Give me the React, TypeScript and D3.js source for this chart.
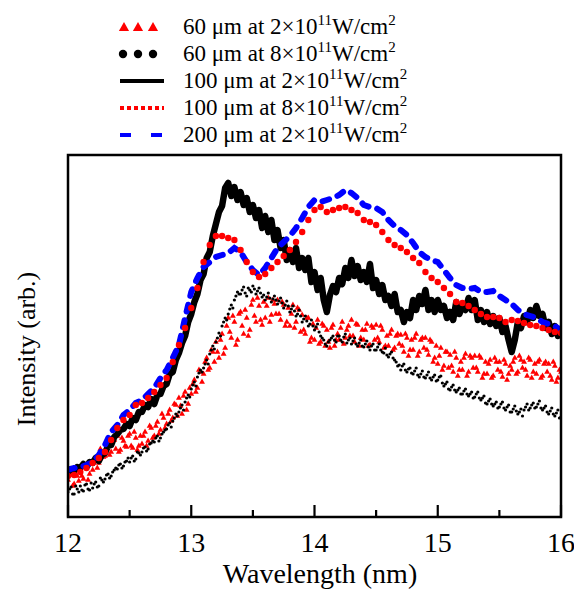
import React from "react";
import * as d3 from "d3";

const START = 12;
const FINE_STEP = 0.025;
const COARSE_STEP = 0.05;

// 100 µm at 2×10^11 W/cm² (solid black), step 0.025 nm
const line100Low = [
  45, 48, 46, 50, 49, 53, 50, 55, 54, 59, 56, 62, 64, 71, 72, 80,
  83, 87, 88, 93, 91, 99, 97, 105, 105, 112, 110, 118, 113, 122, 123, 131,
  133, 143, 145, 157, 164, 174, 181, 195, 203, 215, 223, 237, 243, 259, 265, 281,
  293, 305, 311, 329, 334, 321, 330, 317, 325, 312, 319, 305, 312, 299, 307, 289,
  301, 285, 297, 277, 287, 269, 277, 257, 267, 255, 269, 249, 259, 247, 259, 235,
  245, 227, 239, 217, 205, 222, 231, 225, 239, 233, 249, 239, 257, 241, 251, 237,
  245, 235, 253, 229, 237, 223, 232, 217, 221, 211, 223, 205, 207, 195, 205, 199,
  217, 207, 221, 213, 227, 207, 217, 205, 217, 207, 211, 199, 205, 197, 215, 203,
  211, 207, 219, 207, 217, 197, 207, 195, 205, 193, 201, 191, 199, 185, 191, 177,
  165, 177, 195, 189, 201, 195, 207, 199, 211, 201, 203, 189, 195, 183, 191, 181,
  187,
];

// 100 µm at 8×10^11 W/cm² (red dotted), step 0.05 nm
const line100High = [
  41, 42, 45, 49, 54, 59, 65, 77, 89, 97, 102, 112, 114, 119, 125, 132,
  139, 155, 172, 189, 209, 229, 255, 272, 281, 281, 279, 277, 267, 255, 245, 240,
  243, 249, 255, 261, 267, 275, 285, 297, 307, 310, 305, 307, 309, 310, 307, 304,
  297, 295, 292, 285, 277, 272, 269, 265, 259, 254, 245, 239, 235, 229, 223, 215,
  214, 211, 207, 203, 200, 200, 199, 195, 197, 196, 194, 192, 191, 189, 187, 185,
  184,
];

// 200 µm at 2×10^11 W/cm² (blue dashed), step 0.05 nm
const line200Low = [
  47, 49, 50, 52, 55, 62, 72, 85, 92, 102, 107, 114, 117, 123, 129, 139,
  147, 159, 172, 199, 225, 239, 250, 255, 260, 262, 264, 269, 265, 255, 247, 242,
  249, 259, 269, 275, 281, 289, 299, 310, 317, 315, 317, 319, 322, 327, 324, 319,
  312, 310, 309, 305, 297, 291, 287, 282, 274, 265, 260, 257, 255, 247, 239, 232,
  229, 228, 229, 225, 225, 226, 221, 217, 213, 207, 203, 201, 199, 195, 193, 191,
  187,
];

// 60 µm at 2×10^11 W/cm² (red triangles): set A at 12.000 + i·0.025, set B at 12.0125 + i·0.025
const tri60LowA = [
  37, 45, 33, 41, 47, 38, 51, 43, 47, 59, 54, 65, 61, 75, 65, 77,
  81, 67, 76, 70, 83, 69, 79, 71, 73, 85, 76, 89, 81, 95, 87, 99,
  93, 107, 99, 112, 119, 103, 125, 113, 123, 137, 129, 145, 143, 159, 149, 165,
  175, 159, 183, 169, 199, 179, 195, 177, 205, 183, 199, 187, 217, 195, 211, 192,
  199, 219, 202, 213, 217, 197, 212, 195, 191, 212, 195, 207, 202, 183, 199, 179,
  177, 197, 175, 191, 187, 169, 192, 177, 177, 195, 179, 191, 197, 175, 192, 179,
  177, 193, 172, 189, 192, 175, 187, 171, 171, 187, 169, 183, 182, 165, 179, 167,
  167, 183, 165, 179, 179, 162, 175, 159, 153, 169, 151, 165, 162, 145, 159, 147,
  147, 163, 145, 159, 161, 145, 159, 143, 143, 157, 141, 155, 155, 140, 153, 143,
  147, 159, 145, 157, 155, 141, 157, 145, 143, 157, 141, 155, 153, 137, 151, 139,
  145,
];
const tri60LowB = [
  42, 31, 47, 36, 41, 52, 37, 55, 56, 49, 68, 60, 73, 62, 79, 68,
  65, 79, 71, 81, 71, 85, 67, 81, 81, 71, 91, 79, 91, 83, 103, 89,
  103, 96, 113, 101, 111, 121, 107, 129, 133, 125, 147, 135, 155, 147, 167, 155,
  165, 177, 163, 191, 185, 201, 172, 203, 191, 207, 181, 212, 201, 219, 197, 215,
  211, 195, 217, 203, 203, 215, 191, 209, 203, 189, 209, 185, 187, 199, 175, 193,
  189, 173, 193, 171, 175, 189, 171, 183, 189, 173, 187, 181, 181, 193, 171, 187,
  187, 171, 191, 177, 179, 191, 169, 181, 183, 167, 181, 173, 171, 183, 161, 177,
  179, 161, 177, 169, 167, 177, 155, 171, 161, 147, 165, 149, 151, 165, 141, 155,
  159, 141, 161, 149, 149, 161, 139, 155, 153, 139, 159, 147, 145, 157, 137, 151,
  155, 143, 161, 149, 147, 159, 139, 153, 155, 139, 153, 145, 141, 155, 135, 147,
];

// 60 µm at 8×10^11 W/cm² (black dots): set A at 12.000 + i·0.025, set B at 12.0125 + i·0.025
const dot60HighA = [
  25, 30, 23, 28, 31, 26, 33, 27, 29, 35, 31, 37, 38, 43, 41, 47,
  48, 53, 51, 56, 55, 61, 58, 64, 65, 70, 68, 74, 75, 81, 79, 85,
  88, 94, 96, 103, 105, 112, 115, 122, 128, 135, 140, 147, 149, 157, 163, 171,
  175, 184, 191, 199, 203, 212, 217, 225, 223, 230, 221, 227, 231, 223, 229, 220,
  217, 224, 215, 221, 213, 219, 209, 216, 205, 211, 201, 207, 195, 201, 191, 197,
  187, 193, 181, 177, 171, 177, 181, 175, 181, 175, 183, 177, 173, 179, 171, 177,
  170, 176, 167, 173, 167, 173, 165, 169, 160, 165, 157, 151, 147, 153, 145, 149,
  143, 149, 140, 146, 139, 145, 137, 142, 137, 141, 131, 135, 127, 132, 125, 129,
  123, 128, 121, 125, 120, 125, 117, 121, 113, 118, 111, 115, 110, 115, 107, 112,
  105, 111, 103, 108, 107, 113, 109, 114, 110, 116, 107, 111, 103, 109, 101, 107,
  100,
];
const dot60HighB = [
  28, 23, 31, 25, 27, 32, 28, 34, 33, 30, 39, 35, 42, 39, 45, 49,
  52, 49, 55, 59, 59, 56, 65, 62, 69, 66, 73, 76, 79, 76, 83, 87,
  92, 90, 99, 101, 109, 107, 119, 120, 132, 131, 144, 145, 153, 153, 167, 168,
  179, 181, 195, 197, 208, 209, 221, 223, 227, 224, 229, 225, 228, 226, 224, 222,
  220, 219, 218, 217, 216, 214, 212, 211, 208, 206, 203, 201, 198, 196, 193, 191,
  190, 185, 179, 173, 175, 179, 177, 181, 177, 180, 174, 179, 176, 173, 174, 171,
  173, 170, 171, 167, 170, 167, 164, 162, 163, 159, 155, 152, 151, 147, 148, 144,
  146, 142, 143, 140, 142, 139, 140, 136, 140, 134, 133, 128, 130, 127, 127, 123,
  126, 123, 123, 119, 123, 119, 119, 114, 116, 113, 113, 109, 113, 109, 110, 105,
  108, 106, 105, 101, 110, 107, 112, 109, 113, 109, 109, 105, 106, 103, 104, 99,
];

const xTicksMajor = [12, 13, 14, 15, 16];
const xTicksMinor = [12.5, 13.5, 14.5, 15.5];

const legendItems = [
  { size: "60", power: "2" },
  { size: "60", power: "8" },
  { size: "100", power: "2" },
  { size: "100", power: "8" },
  { size: "200", power: "2" },
];

const W = 574;
const H = 591;

type P = [number, number];
const withGrid = (vals: number[], start: number, step: number): P[] =>
  vals.map((v, i) => [start + i * step, v]);

export default function App() {
  const x = d3.scaleLinear().domain([12, 16]).range([68, 561]);
  const y = d3.scaleLinear().domain([0, 362]).range([517, 155]);

  const black = withGrid(line100Low, START, FINE_STEP);
  const red = withGrid(line100High, START, COARSE_STEP);
  const blue = withGrid(line200Low, START, COARSE_STEP);
  const tris = [
    ...withGrid(tri60LowA, START, FINE_STEP),
    ...withGrid(tri60LowB, START + FINE_STEP / 2, FINE_STEP),
  ];
  const dots = [
    ...withGrid(dot60HighA, START, FINE_STEP),
    ...withGrid(dot60HighB, START + FINE_STEP / 2, FINE_STEP),
  ];

  const line = d3
    .line<P>()
    .x((d) => x(d[0]))
    .y((d) => y(d[1]));
  const triPath = d3.symbol().type(d3.symbolTriangle).size(15)() as string;
  const legTri = d3.symbol().type(d3.symbolTriangle).size(45)() as string;

  const legendY = [27, 54, 81, 108, 135];
  const legendText = [34, 61, 88, 115, 142];

  return (
    <div style={{ position: "absolute", left: 0, top: 0, width: W, height: H, fontFamily: '"Liberation Serif"' }}>
      <svg width={W} height={H} style={{ display: "block", background: "#fff" }}>
        <rect width={W} height={H} fill="#fff" />
        <defs>
          <clipPath id="plot">
            <rect x={68} y={155} width={493} height={362} />
          </clipPath>
        </defs>

        <g clipPath="url(#plot)">
          {tris.map((d, i) => (
            <path
              key={"t" + i}
              d={triPath}
              transform={`translate(${x(d[0])},${y(d[1])})`}
              fill="#ff0000"
            />
          ))}
          {dots.map((d, i) => (
            <circle key={"d" + i} cx={x(d[0])} cy={y(d[1])} r={1.6} fill="#000" />
          ))}
          <path
            d={line(black) as string}
            fill="none"
            stroke="#000"
            strokeWidth={6.5}
            strokeLinejoin="round"
          />
          <path
            d={line(blue) as string}
            fill="none"
            stroke="#0000ff"
            strokeWidth={6}
            strokeDasharray="7 9"
            strokeLinecap="round"
          />
          {red.map((d, i) => (
            <circle key={"r" + i} cx={x(d[0])} cy={y(d[1])} r={3.2} fill="#ff0000" />
          ))}
        </g>

        <rect x={68} y={155} width={493} height={362} fill="none" stroke="#000" strokeWidth={2.5} />
        {xTicksMajor.map((t) => (
          <line key={"M" + t} x1={x(t)} x2={x(t)} y1={517} y2={505} stroke="#000" strokeWidth={2.2} />
        ))}
        {xTicksMinor.map((t) => (
          <line key={"m" + t} x1={x(t)} x2={x(t)} y1={517} y2={510} stroke="#000" strokeWidth={2.2} />
        ))}
        {xTicksMajor.map((t) => (
          <text key={"L" + t} x={x(t)} y={552} fontSize={28} textAnchor="middle" fontFamily="Liberation Serif">
            {t}
          </text>
        ))}
        <text x={320} y={583} fontSize={28} textAnchor="middle" fontFamily="Liberation Serif">
          Wavelength (nm)
        </text>
        <text
          transform="translate(35,349) rotate(-90)"
          fontSize={26}
          textAnchor="middle"
          fontFamily="Liberation Serif"
        >
          Intensity (arb.)
        </text>

        {[124, 138, 153].map((cx) => (
          <path key={"lt" + cx} d={legTri} transform={`translate(${cx},${legendY[0] + 1})`} fill="#ff0000" />
        ))}
        {[123, 138, 153].map((cx) => (
          <circle key={"ld" + cx} cx={cx} cy={legendY[1]} r={4.2} fill="#000" />
        ))}
        <line x1={120} x2={164} y1={legendY[2]} y2={legendY[2]} stroke="#000" strokeWidth={4} />
        <line
          x1={120}
          x2={164}
          y1={legendY[3]}
          y2={legendY[3]}
          stroke="#ff0000"
          strokeWidth={4}
          strokeDasharray="4 3"
        />
        <line x1={120} x2={131} y1={legendY[4]} y2={legendY[4]} stroke="#0000ff" strokeWidth={4} />
        <line x1={151} x2={162} y1={legendY[4]} y2={legendY[4]} stroke="#0000ff" strokeWidth={4} />
        {legendItems.map((it, i) => (
          <text
            key={"lg" + i}
            x={183}
            y={legendText[i]}
            fontSize={23}
            fontFamily="Liberation Serif"
          >
            {`${it.size} μm at ${it.power}×10`}
            <tspan dy={-9} fontSize={15}>
              11
            </tspan>
            <tspan dy={9}>W/cm</tspan>
            <tspan dy={-9} fontSize={15}>
              2
            </tspan>
          </text>
        ))}
      </svg>
    </div>
  );
}
